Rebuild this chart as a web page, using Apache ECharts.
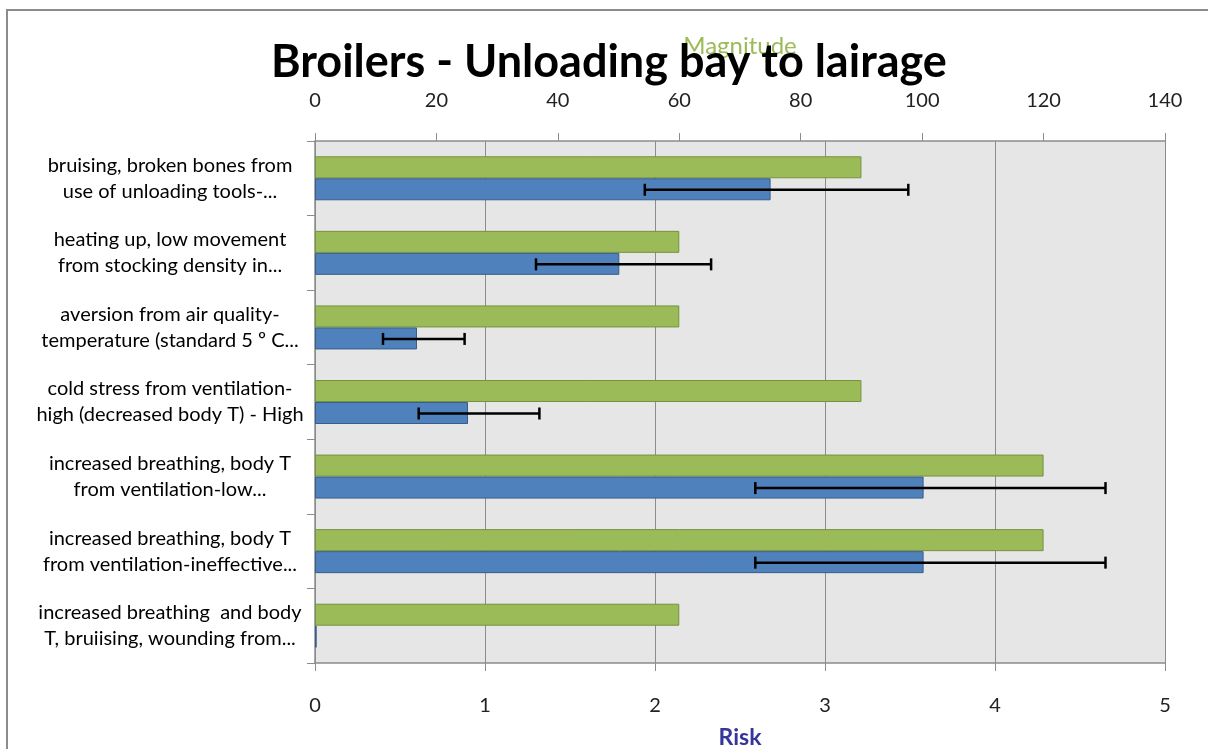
<!DOCTYPE html>
<html>
<head>
<meta charset="utf-8">
<script src="https://cdn.jsdelivr.net/npm/echarts@6/dist/echarts.min.js"></script>
<style>
html,body{margin:0;padding:0;background:#fff;}
#main{width:1208px;height:749px;}
</style>
</head>
<body>
<div id="main"></div>
<script>
const categories = [
  "bruising, broken bones from\nuse of unloading tools-...",
  "heating up, low movement\nfrom stocking density in...",
  "aversion from air quality-\ntemperature (standard 5 º C...",
  "cold stress from ventilation-\nhigh (decreased body T) - High",
  "increased breathing, body T\nfrom ventilation-low...",
  "increased breathing, body T\nfrom ventilation-ineffective...",
  "increased breathing  and body\nT, bruiising, wounding from..."
];
const magnitude = [90, 60, 60, 90, 120, 120, 60];
const risk = [2.68, 1.79, 0.60, 0.90, 3.58, 3.58, 0.01];
const riskLow = [1.94, 1.30, 0.40, 0.61, 2.59, 2.59, null];
const riskHigh = [3.49, 2.33, 0.88, 1.32, 4.65, 4.65, null];
const magnitudeTicks = {min: 0, max: 140, interval: 20};
const riskTicks = {min: 0, max: 5, interval: 1};

const errData = [];
for (let i = 0; i < categories.length; i++) {
  if (riskLow[i] != null) errData.push([i, riskLow[i], riskHigh[i]]);
}

const font = 'Lato, "Open Sans", sans-serif';
const chart = echarts.init(document.getElementById('main'));
chart.setOption({
  animation: false,
  backgroundColor: '#fff',
  title: {
    text: 'Broilers - Unloading bay to lairage',
    left: 266,
    top: 35,
    textStyle: {fontFamily: font, fontWeight: 'bold', fontSize: 45, color: '#000'}
  },
  graphic: [{
    type: 'rect',
    shape: {x: 7, y: 10, width: 1220, height: 760},
    style: {fill: 'none', stroke: '#8c8c8c', lineWidth: 2},
    silent: true
  }],
  grid: {
    left: 315, right: 43, top: 141, bottom: 86,
    outerBoundsMode: 'none', containLabel: false,
    show: true, backgroundColor: '#e6e6e6', borderWidth: 0
  },
  xAxis: [{
    type: 'value', position: 'top',
    min: magnitudeTicks.min, max: magnitudeTicks.max, interval: magnitudeTicks.interval,
    name: 'Magnitude', nameLocation: 'middle', nameGap: 83,
    nameTextStyle: {color: '#9bbb59', fontFamily: font, fontSize: 24},
    axisLine: {show: true, lineStyle: {color: '#8c8c8c', width: 1.5}},
    axisTick: {show: true, length: 8, lineStyle: {color: '#8c8c8c'}},
    axisLabel: {color: '#222', fontFamily: font, fontSize: 20, margin: 30},
    splitLine: {show: false}
  }, {
    type: 'value', position: 'bottom',
    min: riskTicks.min, max: riskTicks.max, interval: riskTicks.interval,
    name: 'Risk', nameLocation: 'middle', nameGap: 63,
    nameTextStyle: {color: '#35359a', fontFamily: font, fontSize: 23, fontWeight: 'bold'},
    axisLine: {show: true, lineStyle: {color: '#8c8c8c', width: 1.5}},
    axisTick: {show: true, length: 8, lineStyle: {color: '#8c8c8c'}},
    axisLabel: {color: '#222', fontFamily: font, fontSize: 20, margin: 33},
    splitLine: {show: true, lineStyle: {color: '#8c8c8c', width: 1}}
  }],
  yAxis: {
    type: 'category', inverse: true, data: categories,
    axisLine: {show: true, lineStyle: {color: '#8c8c8c', width: 1.5}},
    axisTick: {show: true, length: 8, lineStyle: {color: '#8c8c8c'}},
    axisLabel: {color: '#000', fontFamily: font, fontSize: 20, lineHeight: 26, align: 'center', margin: 145}
  },
  series: [{
    name: 'Magnitude', type: 'bar', xAxisIndex: 0, yAxisIndex: 0,
    data: magnitude, barWidth: 22, barGap: '0%',
    itemStyle: {color: '#9bbb59', borderColor: '#76923c', borderWidth: 1}
  }, {
    name: 'Risk', type: 'bar', xAxisIndex: 1, yAxisIndex: 0,
    data: risk, barWidth: 22, barGap: '0%',
    itemStyle: {color: '#4f81bd', borderColor: '#385d8a', borderWidth: 1}
  }, {
    name: 'err', type: 'custom', xAxisIndex: 1, yAxisIndex: 0,
    data: errData,
    encode: {x: [1, 2], y: 0},
    renderItem: function (params, api) {
      const c = api.value(0);
      const p1 = api.coord([api.value(1), c]);
      const p2 = api.coord([api.value(2), c]);
      const y = p1[1] + 11.5;
      const h = 6;
      const st = {stroke: '#000', lineWidth: 2.5};
      return {type: 'group', children: [
        {type: 'line', shape: {x1: p1[0], y1: y, x2: p2[0], y2: y}, style: st},
        {type: 'line', shape: {x1: p1[0], y1: y - h, x2: p1[0], y2: y + h}, style: st},
        {type: 'line', shape: {x1: p2[0], y1: y - h, x2: p2[0], y2: y + h}, style: st}
      ]};
    },
    z: 10
  }]
});
</script>
</body>
</html>
